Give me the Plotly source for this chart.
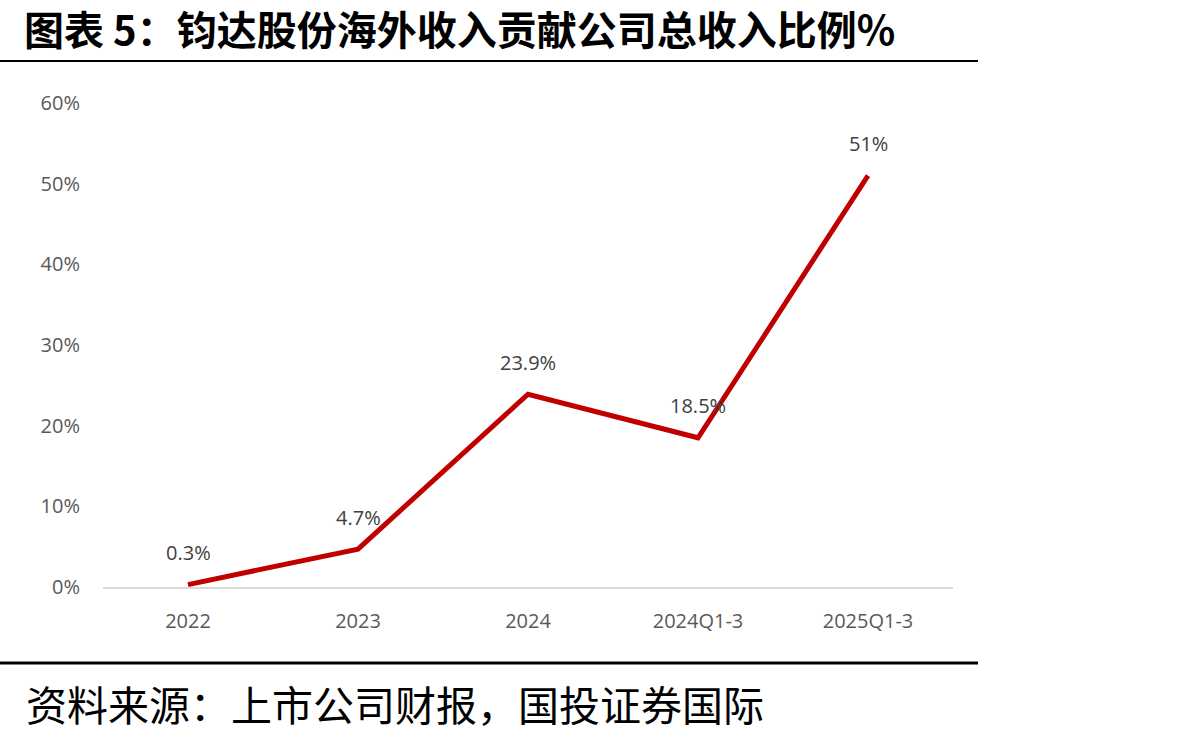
import plotly.graph_objects as go

categories = ["2022", "2023", "2024", "2024Q1-3", "2025Q1-3"]
values = [0.003, 0.047, 0.239, 0.185, 0.51]
labels = ["0.3%", "4.7%", "23.9%", "18.5%", "51%"]
y_ticks = [0, 0.1, 0.2, 0.3, 0.4, 0.5, 0.6]
y_tick_text = ["0%", "10%", "20%", "30%", "40%", "50%", "60%"]

title_text = "图表 5：钧达股份海外收入贡献公司总收入比例%"
source_text = "资料来源：上市公司财报，国投证券国际"

fig = go.Figure()
fig.add_trace(go.Scatter(
    x=categories, y=values, mode="lines",
    line=dict(color="#C00000", width=5),
    cliponaxis=False, hoverinfo="skip"
))

for i, (v, t) in enumerate(zip(values, labels)):
    fig.add_annotation(
        x=i, y=v, xref="x", yref="y", text=t, showarrow=False, yshift=32,
        font=dict(family="Open Sans, Noto Sans", size=20, color="#404040"),
    )

fig.update_layout(
    width=1192, height=737,
    margin=dict(l=103, r=239, t=103, b=150),
    paper_bgcolor="white", plot_bgcolor="white",
    showlegend=False,
    font=dict(family="Open Sans, Noto Sans", color="#595959"),
    xaxis=dict(
        type="category", range=[-0.5, 4.5],
        showgrid=False, showline=True, linecolor="#D9D9D9", linewidth=2,
        ticks="", tickfont=dict(size=20, color="#595959"),
        zeroline=False, ticklabelstandoff=15,
    ),
    yaxis=dict(
        range=[0, 0.6], tickvals=y_ticks, ticktext=y_tick_text,
        showgrid=False, zeroline=False, showline=False, ticks="",
        tickfont=dict(size=20, color="#595959"), ticklabelstandoff=22,
    ),
)

fig.add_annotation(
    text="<b>" + title_text + "</b>", xref="paper", yref="paper",
    x=(22 - 103) / 850, y=1 + (103 - 28) / 484, xanchor="left", yanchor="middle",
    showarrow=False, font=dict(family="Noto Sans CJK SC", size=40, color="black"),
)
fig.add_annotation(
    text=source_text, xref="paper", yref="paper",
    x=(24 - 103) / 850, y=-(703 - 587) / 484, xanchor="left", yanchor="middle",
    showarrow=False, font=dict(family="Noto Sans CJK SC", size=41, color="black"),
)
fig.add_shape(type="line", xref="paper", yref="paper",
              x0=-103 / 850, x1=(978 - 103) / 850,
              y0=1 + (103 - 61) / 484, y1=1 + (103 - 61) / 484,
              line=dict(color="black", width=2))
fig.add_shape(type="line", xref="paper", yref="paper",
              x0=-103 / 850, x1=(978 - 103) / 850,
              y0=-(663 - 587) / 484, y1=-(663 - 587) / 484,
              line=dict(color="black", width=3))

fig.write_html("out.html")
